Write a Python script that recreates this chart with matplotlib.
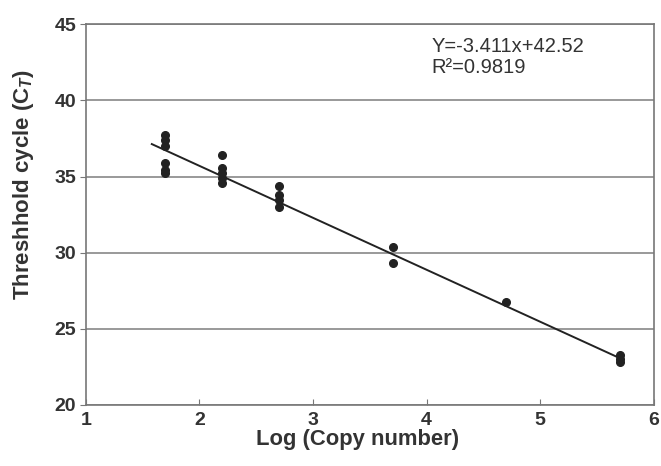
import numpy as np
import matplotlib
matplotlib.use('Agg')
from matplotlib import pyplot as plt

# valores
log_copies = [1.7, 1.7, 1.7, 1.7, 1.7, 1.7,
              2.2, 2.2, 2.2, 2.2, 2.2,
              2.7, 2.7, 2.7, 2.7,
              3.7, 3.7,
              4.7,
              5.7, 5.7, 5.7]
ct_values = [37.7, 37.4, 37.0, 35.9, 35.4, 35.2,
             36.4, 35.55, 35.2, 34.9, 34.6,
             34.4, 33.8, 33.45, 33.0,
             30.4, 29.3,
             26.75,
             23.3, 23.0, 22.8]
slope = -3.411
intercept = 42.52
r2 = 0.9819
fit_range = [1.58, 5.7]

plt.rcParams['font.family'] = ['Liberation Sans', 'DejaVu Sans']
plt.rcParams['mathtext.fontset'] = 'custom'
plt.rcParams['mathtext.rm'] = 'Liberation Sans:bold'
plt.rcParams['mathtext.it'] = 'Liberation Sans:italic:bold'

txt = '#333333'
fig = plt.figure(figsize=(6.61, 4.66), dpi=100)
ax = fig.add_axes([0.130, 0.131, 0.859, 0.817])

#   linhas de grade horizontais
ax.grid(axis='y', color='#888888', linewidth=1.2)
ax.set_axisbelow(True)

#   reta de regressão e pontos
xs = np.array(fit_range)
ax.plot(xs, slope * xs + intercept, color='#222222', linewidth=1.4)
ax.plot(log_copies, ct_values, 'o', color='#222222', markersize=5.5)

ax.set_xlim(1, 6)
ax.set_ylim(20, 45)
ax.set_xticks(range(1, 7))
ax.set_yticks(range(20, 46, 5))
for s in ax.spines.values():
    s.set_color('#777777')
    s.set_linewidth(1.2)
ax.tick_params(axis='x', direction='in', length=4, color='#777777',
               labelsize=14, labelcolor=txt, pad=5)
ax.tick_params(axis='y', direction='out', length=4, color='#777777',
               labelsize=14, labelcolor=txt, pad=3)
for lab in ax.get_xticklabels() + ax.get_yticklabels():
    lab.set_fontweight('bold')

ax.set_xlabel('Log (Copy number)', fontsize=15.8, fontweight='bold', color=txt)
ax.set_ylabel('Threshhold cycle (C$_{\\mathit{T}}$)', fontsize=16,
              fontweight='bold', color=txt)
ax.xaxis.set_label_coords(0.479, -0.062)
ax.yaxis.set_label_coords(-0.088, 0.58)

#   equação da reta
ax.text(0.608, 0.966, 'Y=%.3fx+%.2f' % (slope, intercept), transform=ax.transAxes,
        fontsize=14.5, color=txt, va='top')
ax.text(0.608, 0.912, 'R\u00b2=%.4f' % r2, transform=ax.transAxes,
        fontsize=14.5, color=txt, va='top')

fig.savefig('out.png', dpi=100)
